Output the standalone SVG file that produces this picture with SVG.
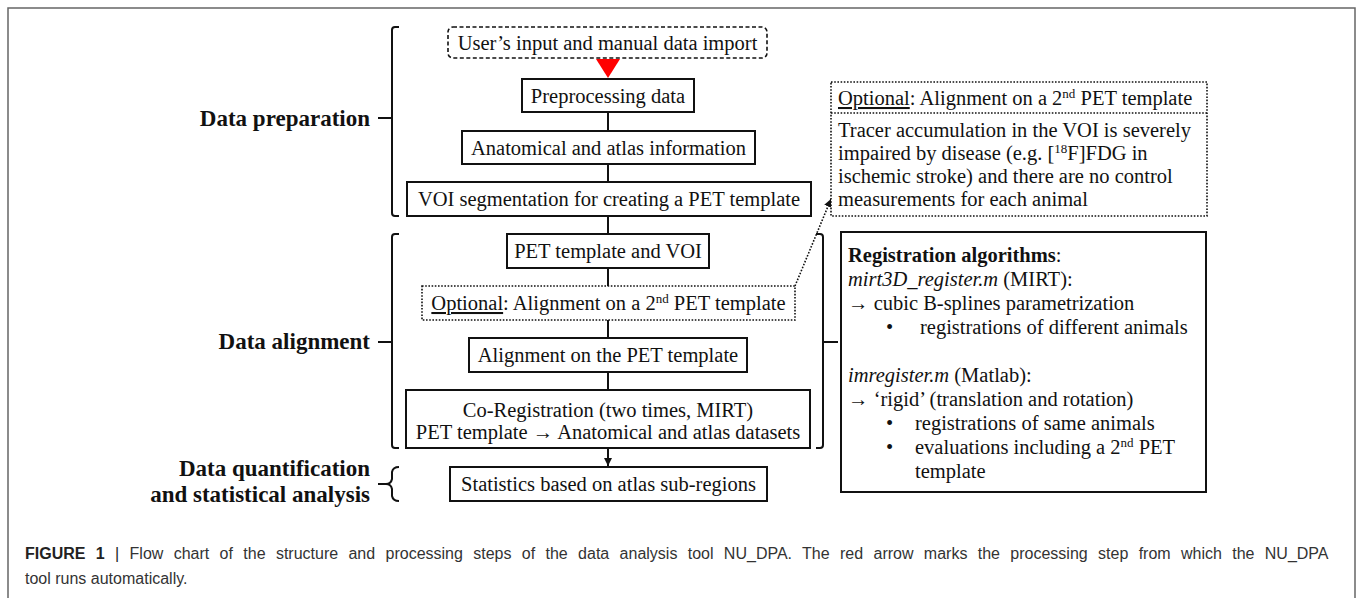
<svg xmlns="http://www.w3.org/2000/svg" width="1358" height="598" viewBox="0 0 1358 598">
  <style>
    .box { fill: #ffffff; stroke: #111111; stroke-width: 2; }
    .dash { fill: #ffffff; stroke: #111111; stroke-width: 1.6; stroke-dasharray: 4 2.5; }
    .dot { fill: #ffffff; stroke: #111111; stroke-width: 1.6; stroke-dasharray: 1.6 1.6; }
    .t { font-family: "Liberation Serif", "Times New Roman", serif; font-size: 20.5px; fill: #111111; }
    .c { text-anchor: middle; }
    .lbl { font-family: "Liberation Serif", "Times New Roman", serif; font-size: 23px; font-weight: bold; fill: #111111; text-anchor: end; }
    .cap { font-family: "Liberation Sans", Arial, sans-serif; font-size: 16px; fill: #333333; }
    .link { fill: none; stroke: #111111; stroke-width: 2; }
    .brace { fill: none; stroke: #111111; stroke-width: 2; }
    .sup { font-size: 13px; }
  </style>
  <defs>
    <marker id="arrow" viewBox="0 0 10 10" refX="10" refY="5" markerWidth="4" markerHeight="4" orient="auto" markerUnits="strokeWidth">
      <path d="M0,0 L10,5 L0,10 Z" fill="#111111"/>
    </marker>
    <marker id="arrowSmall" viewBox="0 0 10 10" refX="10" refY="5" markerWidth="5" markerHeight="5" orient="auto" markerUnits="strokeWidth">
      <path d="M0,0 L10,5 L0,10 Z" fill="#111111"/>
    </marker>
  </defs>

  <!-- figure frame -->
  <path d="M8,600 V8 H1355 V600" fill="none" stroke="#666666" stroke-width="1.5"/>

  <!-- connectors -->
  <g id="connectors">
    <line class="link" x1="608" y1="112" x2="608" y2="131"/>
    <line class="link" x1="608" y1="164" x2="608" y2="182"/>
    <line class="link" x1="608" y1="216" x2="608" y2="234"/>
    <line class="link" x1="608" y1="268" x2="608" y2="286"/>
    <line class="link" x1="608" y1="320" x2="608" y2="338"/>
    <line class="link" x1="608" y1="372" x2="608" y2="390"/>
    <line class="link" x1="608" y1="448" x2="608" y2="466" marker-end="url(#arrow)"/>
    <line x1="795" y1="286" x2="831" y2="199" stroke="#111111" stroke-width="1.6" stroke-dasharray="1.6 1.6" marker-end="url(#arrowSmall)"/>
    <!-- red start marker -->
    <path d="M596,59 L620,59 L608,78 Z" fill="#ff0000"/>
  </g>

  <!-- section braces -->
  <g id="braces">
    <path class="brace" d="M399,27 H395 Q392,27 392,30 V213 Q392,216 395,216 H399 M392,118 H378"/>
    <path class="brace" d="M399,234 H395 Q392,234 392,237 V445 Q392,448 395,448 H399 M392,342 H378"/>
    <path class="brace" d="M399,467 Q393,467 392,472 V479 Q391,484 386,484 H378 M386,484 Q391,484 392,489 V496 Q393,501 399,501"/>
    <path class="brace" d="M816,234 H820 Q823,234 823,237 V445 Q823,448 820,448 H816 M823,342 H838"/>
  </g>

  <!-- section labels -->
  <g id="labels">
    <text class="lbl" x="370" y="126">Data preparation</text>
    <text class="lbl" x="370" y="349">Data alignment</text>
    <text class="lbl" x="370" y="476">Data quantification</text>
    <text class="lbl" x="370" y="502">and statistical analysis</text>
  </g>

  <g id="user-input">
    <rect class="dash" x="448" y="27" width="319" height="31" rx="5"/>
    <text class="t c" x="607.5" y="49.5">User’s input and manual data import</text>
  </g>

  <g id="preprocessing">
    <rect class="box" x="522" y="79" width="172" height="33"/>
    <text class="t c" x="608" y="102.5">Preprocessing data</text>
  </g>

  <g id="anatomical">
    <rect class="box" x="462" y="131" width="293" height="33"/>
    <text class="t c" x="608.5" y="154.5">Anatomical and atlas information</text>
  </g>

  <g id="voi-segmentation">
    <rect class="box" x="407" y="182" width="404" height="34"/>
    <text class="t c" x="609" y="206">VOI segmentation for creating a PET template</text>
  </g>

  <g id="pet-template">
    <rect class="box" x="507" y="234" width="202" height="34"/>
    <text class="t c" x="608" y="258">PET template and VOI</text>
  </g>

  <g id="optional-alignment">
    <rect class="dot" x="422" y="286" width="373" height="34"/>
    <text class="t c" x="608.5" y="310"><tspan text-decoration="underline">Optional</tspan>: Alignment on a 2<tspan class="sup" dy="-7">nd</tspan><tspan dy="7"> PET template</tspan></text>
  </g>

  <g id="alignment">
    <rect class="box" x="469" y="338" width="278" height="34"/>
    <text class="t c" x="608" y="362">Alignment on the PET template</text>
  </g>

  <g id="co-registration">
    <rect class="box" x="406" y="390" width="404" height="58"/>
    <text class="t c" x="608" y="417">Co-Registration (two times, MIRT)</text>
    <text class="t c" x="608" y="439">PET template → Anatomical and atlas datasets</text>
  </g>

  <g id="statistics">
    <rect class="box" x="450" y="467" width="317" height="34"/>
    <text class="t c" x="608.5" y="491">Statistics based on atlas sub-regions</text>
  </g>

  <g id="optional-note">
    <rect class="dot" x="831" y="82" width="376" height="134"/>
    <line x1="831" y1="113" x2="1207" y2="113" stroke="#111111" stroke-width="1.6" stroke-dasharray="1.6 1.6"/>
    <text class="t" x="838" y="105"><tspan text-decoration="underline">Optional</tspan>: Alignment on a 2<tspan class="sup" dy="-7">nd</tspan><tspan dy="7"> PET template</tspan></text>
    <text class="t" x="838" y="137">Tracer accumulation in the VOI is severely</text>
    <text class="t" x="838" y="160">impaired by disease (e.g. [<tspan class="sup" dy="-7">18</tspan><tspan dy="7">F]FDG in</tspan></text>
    <text class="t" x="838" y="183">ischemic stroke) and there are no control</text>
    <text class="t" x="838" y="206">measurements for each animal</text>
  </g>

  <g id="registration-algorithms">
    <rect class="box" x="841" y="232" width="365" height="260"/>
    <text class="t" x="848" y="262"><tspan font-weight="bold">Registration algorithms</tspan>:</text>
    <text class="t" x="848" y="286"><tspan font-style="italic">mirt3D_register.m</tspan> (MIRT):</text>
    <text class="t" x="848" y="310">→ cubic B-splines parametrization</text>
    <text class="t" x="886" y="334">•</text>
    <text class="t" x="920" y="334">registrations of different animals</text>
    <text class="t" x="848" y="382"><tspan font-style="italic">imregister.m</tspan> (Matlab):</text>
    <text class="t" x="848" y="406">→ ‘rigid’ (translation and rotation)</text>
    <text class="t" x="886" y="430">•</text>
    <text class="t" x="915" y="430">registrations of same animals</text>
    <text class="t" x="886" y="454">•</text>
    <text class="t" x="915" y="454">evaluations including a 2<tspan class="sup" dy="-7">nd</tspan><tspan dy="7"> PET</tspan></text>
    <text class="t" x="915" y="478">template</text>
  </g>

  <!-- caption -->
  <g id="caption">
    <text class="cap" x="25" y="559" word-spacing="5.9"><tspan font-weight="bold" fill="#222222">FIGURE 1</tspan><tspan fill="#222222"> | </tspan>Flow chart of the structure and processing steps of the data analysis tool NU_DPA. The red arrow marks the processing step from which the NU_DPA</text>
    <text class="cap" x="25" y="584">tool runs automatically.</text>
  </g>
</svg>
